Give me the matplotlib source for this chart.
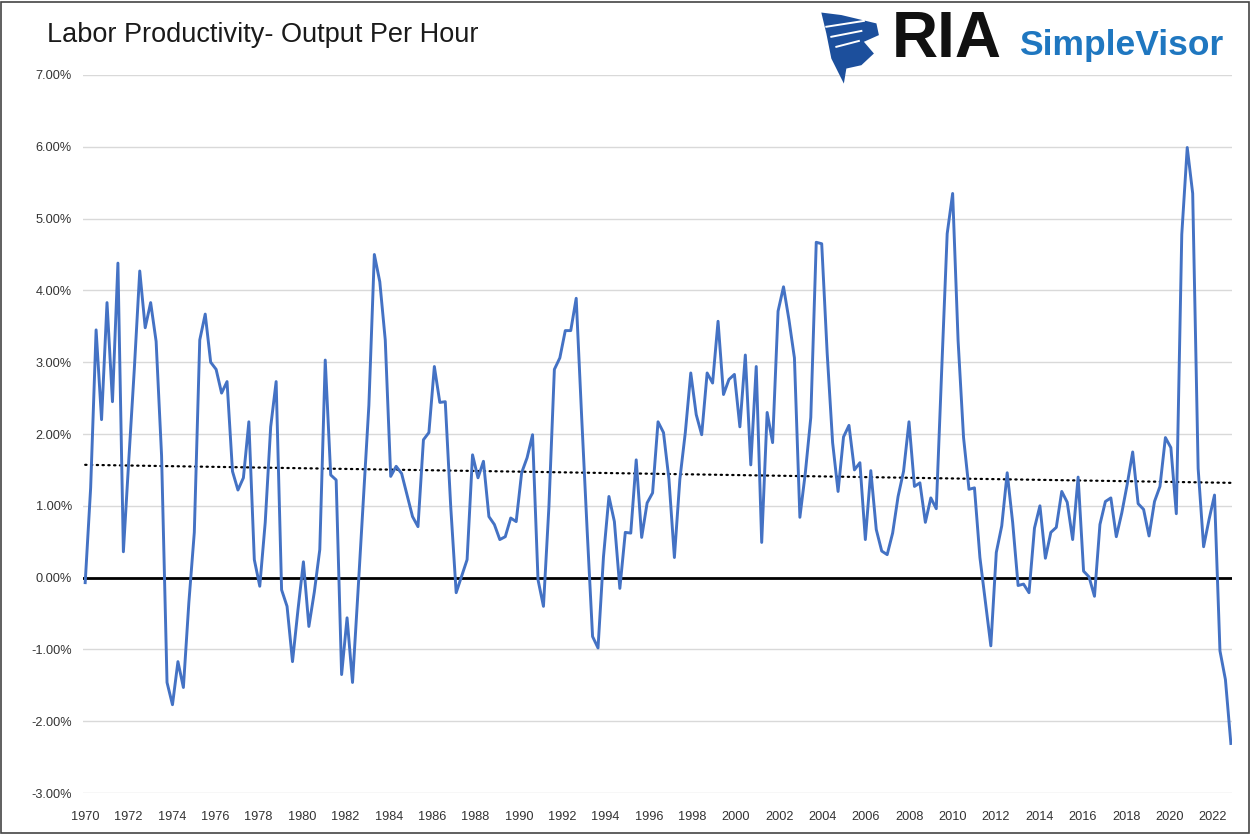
import numpy as np
import matplotlib.pyplot as plt
from matplotlib.patches import Rectangle, Polygon
from matplotlib.ticker import FuncFormatter

plt.rcParams['font.family'] = ['Liberation Sans', 'DejaVu Sans']

# labor productivity, output per hour, y/y % change, quarterly (1969Q4 - 2022Q2)
productivity = [
    -0.07, 1.25, 3.45, 2.20, 3.83, 2.45, 4.38, 0.36, 1.65, 2.90,
    4.27, 3.48, 3.83, 3.29, 1.70, -1.46, -1.77, -1.17, -1.53, -0.35,
    0.63, 3.31, 3.67, 3.00, 2.90, 2.57, 2.73, 1.48, 1.22, 1.39,
    2.17, 0.25, -0.12, 0.77, 2.10, 2.73, -0.17, -0.40, -1.17, -0.45,
    0.22, -0.68, -0.20, 0.39, 3.03, 1.43, 1.36, -1.35, -0.56, -1.46,
    -0.20, 1.10, 2.40, 4.50, 4.12, 3.31, 1.41, 1.55, 1.45, 1.15,
    0.85, 0.71, 1.92, 2.02, 2.94, 2.44, 2.45, 0.99, -0.21, 0.02,
    0.25, 1.71, 1.39, 1.62, 0.85, 0.74, 0.53, 0.57, 0.83, 0.78,
    1.46, 1.67, 1.99, -0.03, -0.40, 0.99, 2.90, 3.06, 3.44, 3.44,
    3.89, 2.24, 0.67, -0.82, -0.98, 0.29, 1.13, 0.78, -0.15, 0.63,
    0.62, 1.64, 0.56, 1.04, 1.18, 2.17, 2.02, 1.37, 0.28, 1.37,
    2.02, 2.85, 2.27, 1.99, 2.85, 2.71, 3.57, 2.55, 2.76, 2.83,
    2.10, 3.10, 1.57, 2.94, 0.49, 2.30, 1.88, 3.71, 4.05, 3.59,
    3.06, 0.84, 1.46, 2.23, 4.67, 4.65, 3.13, 1.88, 1.20, 1.96,
    2.12, 1.50, 1.60, 0.53, 1.49, 0.67, 0.37, 0.32, 0.62, 1.13,
    1.48, 2.17, 1.27, 1.32, 0.77, 1.11, 0.96, 2.90, 4.79, 5.35,
    3.30, 1.95, 1.23, 1.25, 0.28, -0.33, -0.95, 0.35, 0.72, 1.46,
    0.77, -0.11, -0.09, -0.21, 0.69, 1.00, 0.27, 0.63, 0.70, 1.20,
    1.05, 0.53, 1.40, 0.09, 0.01, -0.26, 0.74, 1.06, 1.11, 0.57,
    0.90, 1.30, 1.75, 1.03, 0.95, 0.58, 1.06, 1.27, 1.95, 1.81,
    0.89, 4.78, 5.99, 5.35, 1.52, 0.43, 0.81, 1.15, -1.02, -1.42,
    -2.31,
]
tick_years = list(range(1970, 2023, 2))
y_ticks = [-3, -2, -1, 0, 1, 2, 3, 4, 5, 6, 7]

fig = plt.figure(figsize=(12.52, 8.36), dpi=100)
ax = fig.add_axes([0.0663, 0.0514, 0.9177, 0.8589])

x = np.arange(len(productivity))
ax.plot(x, productivity, color='#4472C4', lw=2.1, zorder=3, solid_joinstyle='round')

# linear trendline like excel
coef = np.polyfit(x, productivity, 1)
ax.plot(x, np.polyval(coef, x), color='black', lw=1.6, ls=(0, (0.6, 2.0)),
        dash_capstyle='round', zorder=2)
ax.axhline(0, color='black', lw=2.0, zorder=2.5)

ax.set_ylim(-3, 7)
ax.set_xlim(-0.4, len(productivity) - 0.8)
ax.set_yticks(y_ticks)
ax.yaxis.set_major_formatter(FuncFormatter(lambda v, p: '%.2f%%' % v))
ax.set_xticks([7.95 * i for i in range(len(tick_years))])
ax.set_xticklabels([str(y) for y in tick_years])
ax.grid(axis='y', color='#d9d9d9', lw=1.0)
ax.set_axisbelow(True)
for s in ax.spines.values():
    s.set_visible(False)
ax.tick_params(length=0, labelsize=9.2, colors='#333333')
ax.tick_params(axis='y', pad=8)
ax.tick_params(axis='x', pad=13)

fig.text(0.0375, 0.958, 'Labor Productivity- Output Per Hour', fontsize=19.5,
         color='#1a1a1a', va='center', ha='left')

# logo: eagle head badge
fig.patches.append(Polygon([[0.656, 0.985], [0.672, 0.982], [0.700, 0.972],
                            [0.702, 0.958], [0.690, 0.950], [0.698, 0.936],
                            [0.688, 0.922], [0.676, 0.918], [0.674, 0.900],
                            [0.664, 0.930], [0.660, 0.960]],
                           closed=True, transform=fig.transFigure,
                           facecolor='#1c4f9c', edgecolor='none'))
for k in range(3):
    fig.lines.append(plt.Line2D([0.660 + 0.004 * k, 0.690 - 0.002 * k],
                                [0.968 - 0.012 * k, 0.975 - 0.012 * k],
                                transform=fig.transFigure, color='white', lw=1.4))
fig.text(0.712, 0.952, 'RIA', fontsize=46, fontweight='bold', color='#111111',
         va='center', ha='left')
fig.text(0.814, 0.945, 'SimpleVisor', fontsize=25.5, fontweight='bold',
         color='#1f77c0', va='center', ha='left')

fig.patches.append(Rectangle((0.001, 0.003), 0.997, 0.995, transform=fig.transFigure,
                             fill=False, edgecolor='#444444', lw=1.2))

plt.savefig('out.png', dpi=100)
